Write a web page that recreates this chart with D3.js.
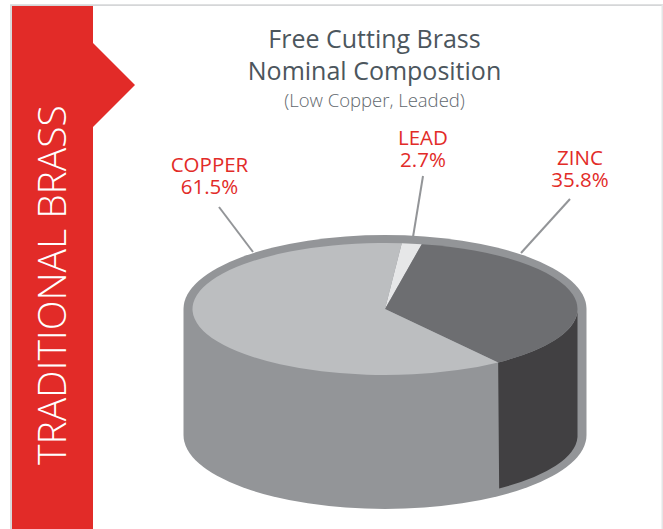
<!DOCTYPE html>
<html><head><meta charset="utf-8">
<script src="https://cdn.jsdelivr.net/npm/d3@7"></script>
<style>html,body{margin:0;padding:0;background:#fff}svg{display:block}text{font-family:"Open Sans","Noto Sans",sans-serif}</style>
</head><body><svg id="c" width="663" height="529"></svg>
<script>
const categories = ["LEAD","ZINC","COPPER"];
const values = [2.7,35.8,61.5];
const sliceColors = ["#e6e7e8","#6d6e71","#bcbec0"];
const titleLines = ["Free Cutting Brass","Nominal Composition"];
const subtitle = "(Low Copper, Leaded)";
const sideTitle = "TRADITIONAL BRASS";

const svg = d3.select("#c");
const RED="#e22b28", SIDE="#939598", DARK="#414042";

// frame
svg.append("path").attr("d","M11,529V5.2H663").attr("fill","none").attr("stroke","#d5d6d8").attr("stroke-width",1.8);
svg.append("rect").attr("x",661.5).attr("y",5).attr("width",1.5).attr("height",524).attr("fill","#e4e5e6");

// banner
svg.append("path").attr("d","M12,6H93V43L135,85L93,127V529H12Z").attr("fill",RED);
svg.append("text").attr("transform","translate(66,465) rotate(-90)").attr("fill","#fff")
  .attr("font-size",39).attr("font-weight",300).text(sideTitle);

// titles
const titleG = svg.append("g").attr("text-anchor","middle");
titleG.selectAll("text.t").data(titleLines).join("text").attr("class","t")
  .attr("x",374.5).attr("y",(d,i)=>48+i*32).attr("font-size",25).attr("fill","#4c565d").text(d=>d);
titleG.append("text").attr("x",374.5).attr("y",107).attr("font-size",18.5).attr("font-weight",300).attr("fill","#5f686e").text(subtitle);

// labels
const labelPos = {COPPER:[209.5,172],LEAD:[423,145],ZINC:[580,165]};
const leaders = {COPPER:[[219,207],[253,252]],LEAD:[[423,176],[413,237]],ZINC:[[570,199],[521,253]]};
categories.forEach((c,i)=>{
  const [x,y]=labelPos[c];
  const t=svg.append("text").attr("text-anchor","middle").attr("fill",RED).attr("font-size",20.5);
  t.append("tspan").attr("x",x).attr("y",y).text(c);
  t.append("tspan").attr("x",x).attr("y",y+22).text(values[i]+"%");
  svg.append("path").attr("d",d3.line()(leaders[c])).attr("stroke",SIDE).attr("stroke-width",2).attr("fill","none");
});

// pie geometry
const cx=385, cy=309, depth=126, rxO=201.5, ryO=74, rxI=192.5, ryI=66;
// the drawn pie is foreshortened: cumulative share -> angle on the top face
const cum=[0,...d3.cumsum(values)];
const angle=d3.scaleLinear().domain(cum).range([5,11,144,365].map(d=>d*Math.PI/180));
const px=(a,rx=rxI)=>cx+rx*Math.sin(a), py=(a,ry=ryI,y0=cy)=>y0-ry*Math.cos(a);

// body
svg.append("path").attr("fill",SIDE).attr("d",
  `M${cx-rxO},${cy}A${rxO},${ryO} 0 0 1 ${cx+rxO},${cy}V${cy+depth}A${rxO},${ryO} 0 0 1 ${cx-rxO},${cy+depth}Z`);

// dark side wall under zinc
const zs=angle(cum[2]);
svg.append("path").attr("fill",DARK).attr("d",
  `M${px(zs)},${py(zs)}A${rxI},${ryI} 0 0 0 ${cx+rxI},${cy+3}V${cy+depth+2}A${rxI},${ryI} 0 0 1 ${px(zs)+1},${py(zs,ryI,cy+depth)}Z`);

// top face
values.forEach((v,i)=>{
  const a0=angle(cum[i]), a1=angle(cum[i+1]);
  const large=(a1-a0)>Math.PI?1:0;
  svg.append("path").attr("fill",sliceColors[i]).attr("d",
    `M${cx},${cy}L${px(a0)},${py(a0)}A${rxI},${ryI} 0 ${large} 1 ${px(a1)},${py(a1)}Z`);
});
</script></body></html>
